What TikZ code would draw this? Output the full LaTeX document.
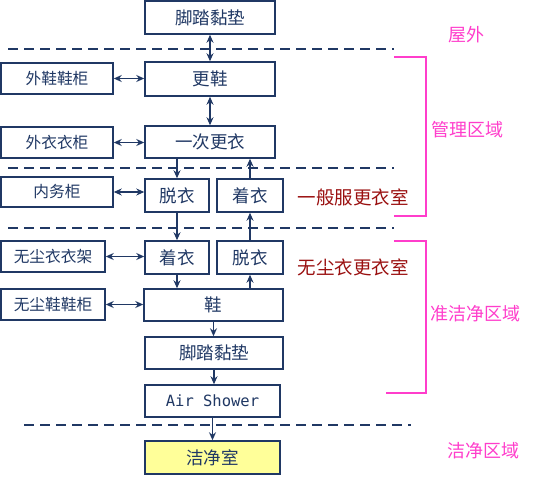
\documentclass[tikz,border=0pt]{standalone}
\usepackage{fontspec}
\newfontfamily\cjk{Noto Sans CJK SC}
\newfontfamily\monofnt{DejaVu Sans Mono}
\usetikzlibrary{arrows.meta}
\definecolor{navy}{HTML}{203864}
\definecolor{magen}{HTML}{FF3DCB}
\definecolor{dred}{HTML}{9A1010}
\definecolor{lyel}{HTML}{FFFF99}
\tikzset{
  box/.style={draw=navy, line width=1.5pt, fill=white, inner sep=0pt, text=navy, font=\cjk\fontsize{17.5}{17.5}\selectfont},
  sbox/.style={box, font=\cjk\fontsize{15.7}{15.7}\selectfont},
  arr/.style={draw=navy, line width=1.4pt, -{Stealth[length=8pt,width=7pt]}},
  darr/.style={draw=navy, line width=1.4pt, {Stealth[length=8pt,width=7pt]}-{Stealth[length=8pt,width=7pt]}},
  sep/.style={draw=navy, line width=1.5pt, dash pattern=on 10pt off 6pt},
  brk/.style={draw=magen, line width=1.5pt},
  zone/.style={text=magen, font=\cjk\fontsize{18}{18}\selectfont, inner sep=0pt},
  room/.style={text=dred, font=\cjk\fontsize{18.5}{18.5}\selectfont, inner sep=0pt},
}
\begin{document}
\begin{tikzpicture}[x=1pt, y=-1pt]
\useasboundingbox (0,0) rectangle (546,479);
% separators
\coordinate (l1a) at (8,49); \coordinate (l1b) at (394,49);
\coordinate (l2a) at (8,168); \coordinate (l2b) at (394,168);
\coordinate (l3a) at (8,228); \coordinate (l3b) at (394,228);
\coordinate (l4a) at (24,425); \coordinate (l4b) at (411,425);
\draw[sep] (l1a) -- (l1b);
\draw[sep] (l2a) -- (l2b);
\draw[sep] (l3a) -- (l3b);
\draw[sep] (l4a) -- (l4b);
% brackets
\coordinate (b1a) at (394,57); \coordinate (b1b) at (426,57);
\coordinate (b1c) at (426,216); \coordinate (b1d) at (394,216);
\draw[brk] (b1a) -- (b1b) -- (b1c) -- (b1d);
\coordinate (b2a) at (394,241); \coordinate (b2b) at (426,241);
\coordinate (b2c) at (426,393); \coordinate (b2d) at (386,393);
\draw[brk] (b2a) -- (b2b) -- (b2c) -- (b2d);
% main column
\node[box, minimum width=130pt, minimum height=33pt] (m1) at (210,17.5) {脚踏黏垫};
\node[box, minimum width=130pt, minimum height=34pt] (m2) at (210,79) {更鞋};
\node[box, minimum width=130pt, minimum height=32pt] (m3) at (210,142) {一次更衣};
\node[box, minimum width=64pt, minimum height=33pt] (g1) at (177,195.5) {脱衣};
\node[box, minimum width=66pt, minimum height=33pt] (g2) at (250,195.5) {着衣};
\node[box, minimum width=64pt, minimum height=33pt] (d1) at (177,257.5) {着衣};
\node[box, minimum width=66pt, minimum height=33pt] (d2) at (250,257.5) {脱衣};
\node[box, minimum width=139pt, minimum height=32pt] (m4) at (213.5,305) {鞋};
\node[box, minimum width=138pt, minimum height=32pt] (m5) at (214,353) {脚踏黏垫};
\node[box, minimum width=135pt, minimum height=32pt, font=\monofnt\fontsize{15.5}{15.5}\selectfont] (m6) at (212.5,401) {Air Shower};
\node[box, fill=lyel, minimum width=135pt, minimum height=33pt] (m7) at (212.5,457.5) {洁净室};
% side boxes
\node[sbox, minimum width=112pt, minimum height=31pt] (s1) at (57,78.5) {外鞋鞋柜};
\node[sbox, minimum width=112pt, minimum height=31pt] (s2) at (57,142.5) {外衣衣柜};
\node[sbox, minimum width=112pt, minimum height=30pt] (s3) at (57,192) {内务柜};
\node[sbox, minimum width=104pt, minimum height=31pt] (s4) at (53,256.5) {无尘衣衣架};
\node[sbox, minimum width=104pt, minimum height=31pt] (s5) at (53,304.5) {无尘鞋鞋柜};
% labels
\node[zone] (z1) at (466,35) {屋外};
\node[zone] (z2) at (467,130) {管理区域};
\node[room] (r1) at (353,197) {一般服更衣室};
\node[room] (r2) at (353,267) {无尘衣更衣室};
\node[zone] (z3) at (475,314) {准洁净区域};
\node[zone] (z4) at (483,451) {洁净区域};
% connectors
\draw[darr] (m1.south) -- (m2.north);
\draw[darr] (m2.south) -- (m3.north);
\draw[darr] (s1.east) -- (s1.east -| m2.west);
\draw[darr] (s2.east) -- (s2.east -| m3.west);
\draw[darr] (s3.east) -- (s3.east -| g1.west);
\draw[darr] (s4.east) -- (s4.east -| d1.west);
\draw[darr] (s5.east) -- (s5.east -| m4.west);
\draw[arr] (m3.south -| g1.north) -- (g1.north);
\draw[arr] (g2.north) -- (g2.north |- m3.south);
\draw[arr] (g1.south) -- (d1.north);
\draw[arr] (d2.north) -- (g2.south);
\draw[arr] (d1.south) -- (d1.south |- m4.north);
\draw[arr] (m4.north -| d2.south) -- (d2.south);
\draw[arr] (m4.south) -- (m4.south |- m5.north);
\draw[arr] (m5.south) -- (m5.south |- m6.north);
\draw[arr] (m6.south) -- (m7.north);
\end{tikzpicture}
\end{document}
